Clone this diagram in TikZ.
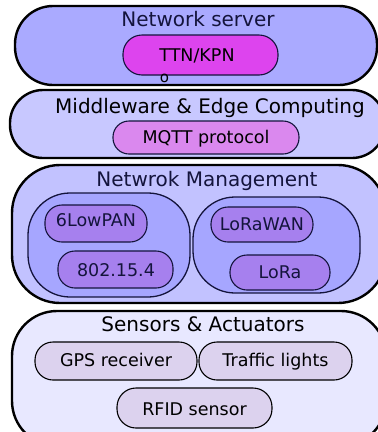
\documentclass[tikz,border=0pt]{standalone}
\usepackage{fontspec}
\setmainfont{DejaVu Sans}
\definecolor{nsfill}{HTML}{AAAAFF}
\definecolor{mwfill}{HTML}{C8C8FF}
\definecolor{nmfill}{HTML}{C2C2FF}
\definecolor{ctfill}{HTML}{A6A6FF}
\definecolor{itfill}{HTML}{A680EE}
\definecolor{safill}{HTML}{E8E8FF}
\definecolor{sifill}{HTML}{DCD2EE}
\definecolor{ttnfill}{HTML}{DD44EE}
\definecolor{mqttfill}{HTML}{DA88EE}
\definecolor{navy}{HTML}{14143C}
\tikzset{
  outerbox/.style={draw=black, line width=2.4pt, inner sep=0pt, outer sep=0pt},
  innerbox/.style={draw=navy, line width=1.3pt, inner sep=0pt, outer sep=0pt},
  itembox/.style={draw=navy, line width=1.1pt, inner sep=0pt, outer sep=0pt, rounded corners=17pt},
  titletext/.style={anchor=base, inner sep=0pt, text=navy, font=\fontsize{20}{24}\selectfont},
  itemtext/.style={anchor=base, inner sep=0pt, text=navy, font=\fontsize{17.5}{21}\selectfont},
}
\begin{document}
\begin{tikzpicture}[x=1pt,y=-1pt]
\useasboundingbox (0,0) rectangle (378,432);
\clip (0,0) rectangle (378,432);
% Network server
\node[outerbox, fill=nsfill, rounded corners=38pt, minimum width=362pt, minimum height=79pt] (ns) at (196,45.5) {};
\node[titletext] (nst) at (198,26) {Network server};
\node[itembox, fill=ttnfill, rounded corners=19pt, minimum width=155pt, minimum height=40pt] (ttn) at (200.5,55) {};
\node[itemtext, text=black] (ttnt) at (197,61.7) {TTN/KPN};
\node[anchor=base, inner sep=0pt, font=\fontsize{15}{18}\selectfont] (o) at (164.5,82.5) {o};
% Middleware
\node[outerbox, fill=mwfill, rounded corners=33pt, minimum width=375pt, minimum height=68pt] (mw) at (197.5,124) {};
\node[titletext, text=black] (mwt) at (210,113) {Middleware \& Edge Computing};
\node[itembox, fill=mqttfill, rounded corners=16pt, minimum width=186pt, minimum height=33pt] (mqtt) at (206,137.5) {};
\node[itemtext, text=black] (mqttt) at (206,143.3) {MQTT protocol};
% Network management
\node[outerbox, fill=nmfill, rounded corners=48pt, minimum width=374pt, minimum height=138pt] (nm) at (199,234) {};
\node[titletext] (nmt) at (207,186.7) {Netwrok Management};
\node[innerbox, fill=ctfill, rounded corners=42pt, minimum width=162pt, minimum height=104pt] (lc) at (109,245) {};
\node[innerbox, fill=ctfill, rounded corners=42pt, minimum width=167pt, minimum height=96pt] (rc) at (276.5,245) {};
\node[itembox, fill=itfill, minimum width=102pt, minimum height=37pt] (lp) at (96,223.5) {};
\node[itemtext] (lpt) at (96,226.7) {6LowPAN};
\node[itembox, fill=itfill, minimum width=115pt, minimum height=37pt] (ieee) at (115.5,269.5) {};
\node[itemtext] (ieeet) at (116,276.7) {802.15.4};
\node[itembox, fill=itfill, minimum width=102pt, minimum height=35pt] (lw) at (262,224.5) {};
\node[itemtext] (lwt) at (262,230) {LoRaWAN};
\node[itembox, fill=itfill, minimum width=100pt, minimum height=35pt] (lr) at (280,272.5) {};
\node[itemtext] (lrt) at (280,278.3) {LoRa};
% Sensors
\node[outerbox, fill=safill, rounded corners=45pt, minimum width=374pt, minimum height=135pt] (sa) at (199,378.5) {};
\node[titletext, text=black] (sat) at (203,331.7) {Sensors \& Actuators};
\node[itembox, draw=black, fill=sifill, rounded corners=18pt, minimum width=162pt, minimum height=38pt] (gps) at (116,361) {};
\node[itemtext, text=black] (gpst) at (116,366.7) {GPS receiver};
\node[itembox, draw=black, fill=sifill, rounded corners=18pt, minimum width=153pt, minimum height=38pt] (tl) at (275.5,361) {};
\node[itemtext, text=black] (tlt) at (275.5,366.7) {Traffic lights};
\node[itembox, draw=black, fill=sifill, rounded corners=19pt, minimum width=155pt, minimum height=40pt] (rfid) at (194.5,408) {};
\node[itemtext, text=black] (rfidt) at (194.5,415) {RFID sensor};
\end{tikzpicture}
\end{document}
